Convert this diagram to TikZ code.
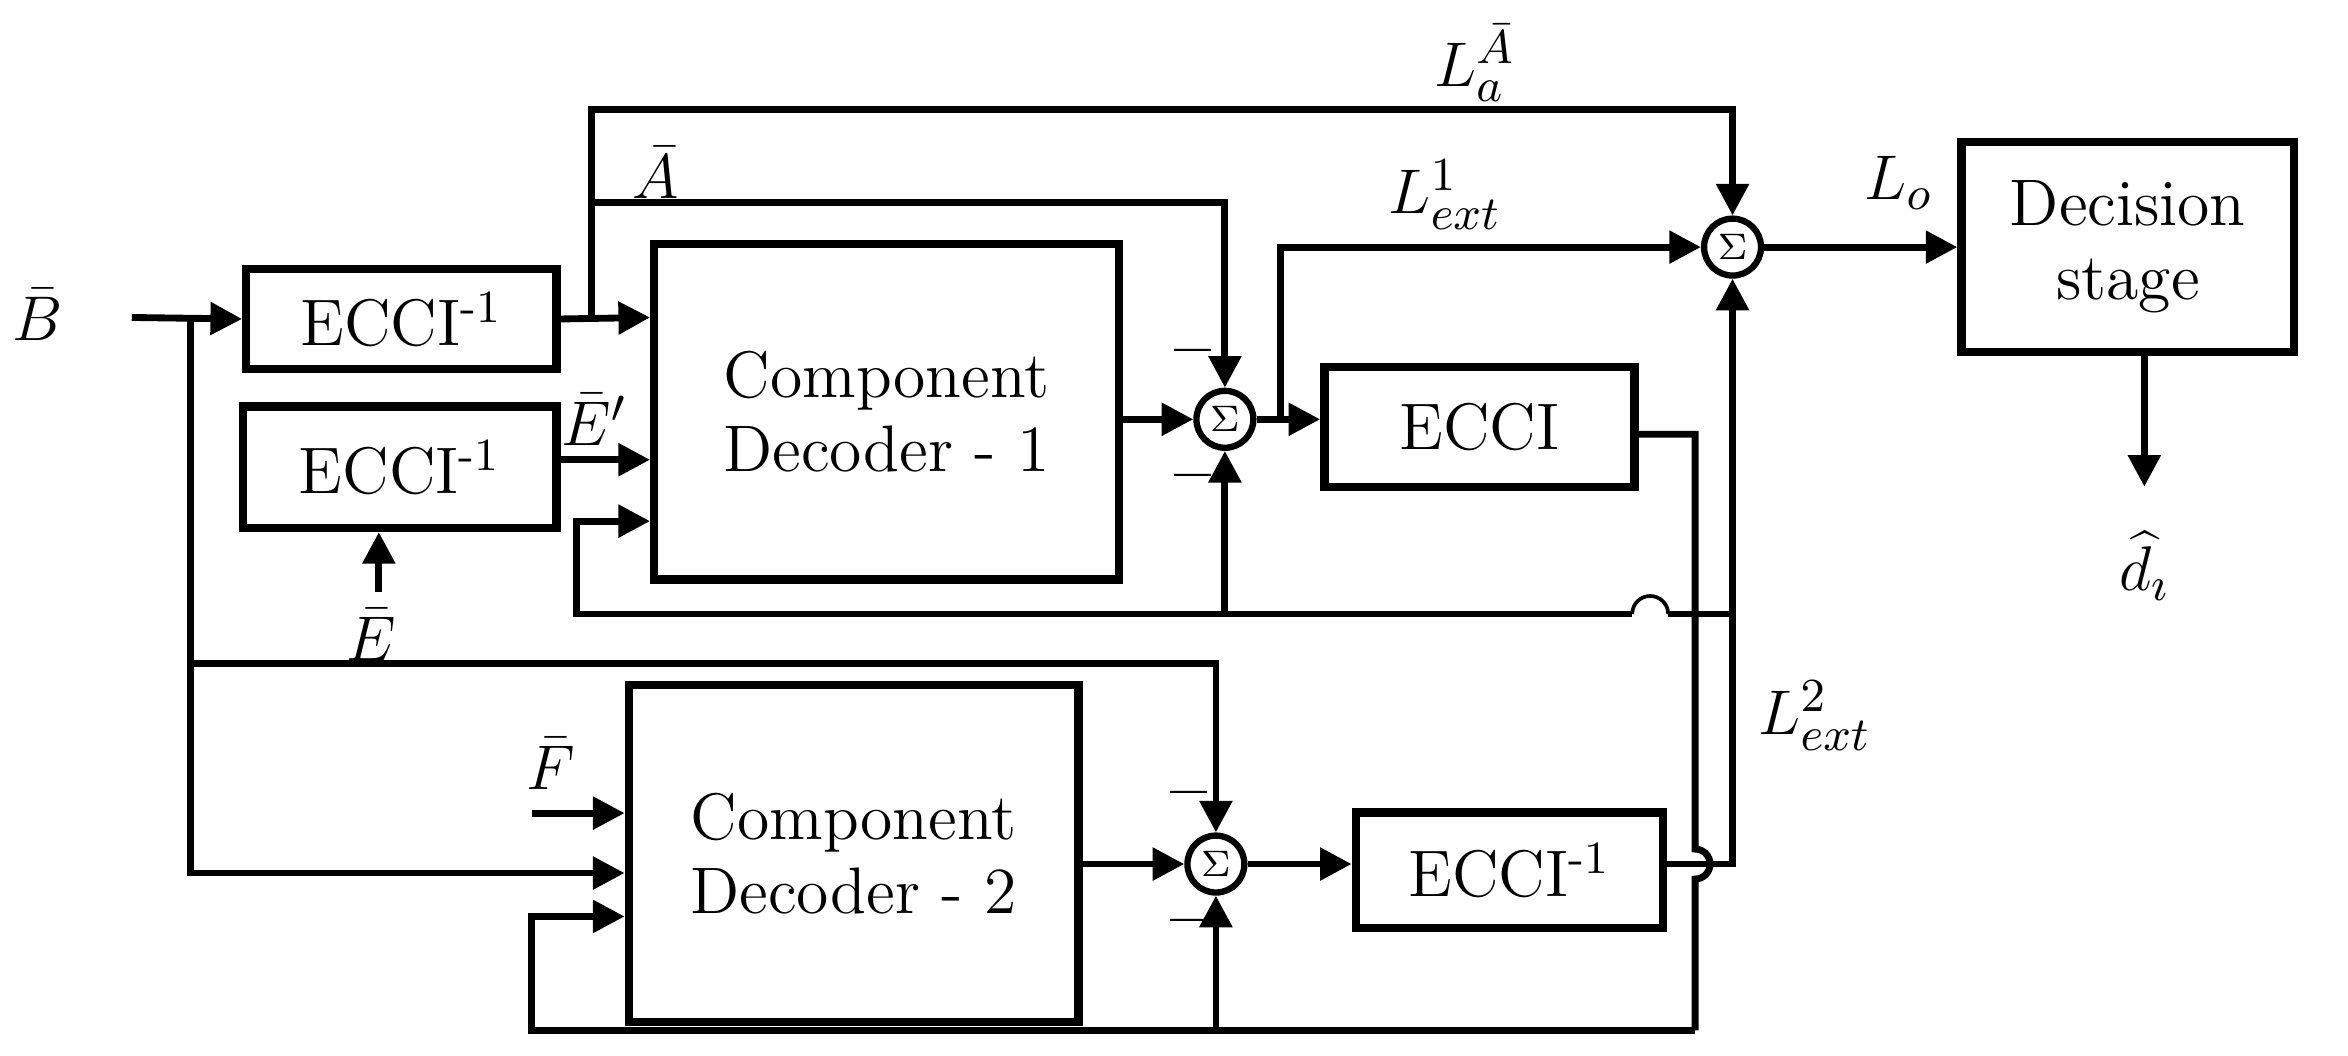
\documentclass[tikz,border=0pt]{standalone}
\usetikzlibrary{arrows.meta,positioning,calc}
\begin{document}
\begin{tikzpicture}[x=0.01cm,y=-0.01cm,line width=1.3pt,
    font=\fontsize{12.5}{14}\selectfont,
    >={Triangle[length=6pt,width=6pt]},
    blk/.style={draw,line width=1.6pt,align=center,inner sep=0pt},
    sumn/.style={draw,circle,line width=1.2pt,minimum size=0.38cm,inner sep=0pt,font=\scriptsize},
    lbl/.style={inner sep=1pt}]
    \useasboundingbox (0,0) rectangle (1568,705);
    % blocks
    \node[blk,minimum width=2.07cm,minimum height=0.67cm] (ei1) at (268,213) {ECCI\textsuperscript{-1}};
    \node[blk,minimum width=2.09cm,minimum height=0.81cm] (ei2) at (267,312) {ECCI\textsuperscript{-1}};
    \node[blk,minimum width=3.10cm,minimum height=2.24cm] (dec1) at (592,275) {Component\\Decoder - 1};
    \node[blk,minimum width=3.00cm,minimum height=2.25cm] (dec2) at (570,570) {Component\\Decoder - 2};
    \node[blk,minimum width=2.07cm,minimum height=0.80cm] (ec) at (988,285) {ECCI};
    \node[blk,minimum width=2.05cm,minimum height=0.77cm] (ei3) at (1008,581) {ECCI\textsuperscript{-1}};
    \node[blk,minimum width=2.22cm,minimum height=1.40cm] (dec) at (1421,165) {Decision\\stage};
    \node[sumn] (s1) at (818,280) {$\Sigma$};
    \node[sumn] (s3) at (812,577) {$\Sigma$};
    \node[sumn] (so) at (1157,165) {$\Sigma$};
    % coordinates
    \coordinate (in) at (88,212);
    \coordinate (jb) at (127,212);
    \coordinate (ja) at (395,212);
    \coordinate (fb1) at (1157,410);
    \coordinate (fb2) at (1132,688);
    \coordinate (eb) at (253,395);
    \coordinate (fin) at (355,543);
    % labels
    \node[lbl] at (25,210) {$\bar{B}$};
    \node[lbl] at (438,115) {$\bar{A}$};
    \node[lbl] at (397,280) {$\bar{E}'$};
    \node[lbl] at (248,424) {$\bar{E}$};
    \node[lbl] at (368,510) {$\bar{F}$};
    \node[lbl] at (985,42) {$L_a^{\bar{A}}$};
    \node[lbl] at (965,130) {$L_{ext}^{1}$};
    \node[lbl] at (1212,478) {$L_{ext}^{2}$};
    \node[lbl] at (1268,122) {$L_o$};
    \node[lbl] at (1432,378) {$\widehat{d}_\imath$};
    \foreach \p in {(797,240),(797,323),(794,535),(794,620)}
        \node[lbl] at \p {\textbf{--}};
    % input side
    \draw[->] (in) -- (ei1.west);
    \draw[->] (jb) |- (dec2.west |- 0,583);
    \draw[->] (jb |- 0,443) -| (s3.north);
    \draw[->] (ei1.east) -- (dec1.west |- ja);
    \draw[->] (ja) |- (so.north |- 0,73) -- (so.north);
    \draw[->] (ja |- 0,135) -| (s1.north);
    \draw[->] (ei2.east |- 0,307) -- (dec1.west |- 0,307);
    \draw[->] (eb) -- (ei2.south -| eb);
    \draw[->] (fin) -- (dec2.west |- fin);
    % decoder 1 loop
    \draw[->] (dec1.east |- s1) -- (s1.west);
    \draw[->] (s1.east) -- (ec.west |- s1);
    \draw[->] (855,280) |- (so.west);
    \draw[->] (fb1) -- (so.south);
    \draw[->] (1090,410) -- (s1.south |- 0,410) -- (385,410) |- (dec1.west |- 0,348);
    \draw[->] (s1.south |- 0,410) -- (s1.south);
    \draw[line width=0.7pt] (1090,410) arc[start angle=180,end angle=0,radius=0.12cm];
    \draw (1114,410) -- (fb1);
    % ECCI to decoder 2
    \draw (ec.east |- 0,290) -| (1132,567)
        arc[start angle=90,end angle=-90,radius=0.1cm] -- (fb2);
    \draw[->] (fb2) -| (355,612) -- (dec2.west |- 0,612);
    \draw[->] (s3.south |- fb2) -- (s3.south);
    % decoder 2 loop
    \draw[->] (dec2.east |- s3) -- (s3.west);
    \draw[->] (s3.east) -- (ei3.west |- s3);
    \draw (ei3.east |- s3) -- (1157,577) -- (fb1);
    % output
    \draw[->] (so.east) -- (dec.west);
    \draw[->] (dec.south -| 1432,0) -- (1432,325);
\end{tikzpicture}
\end{document}
